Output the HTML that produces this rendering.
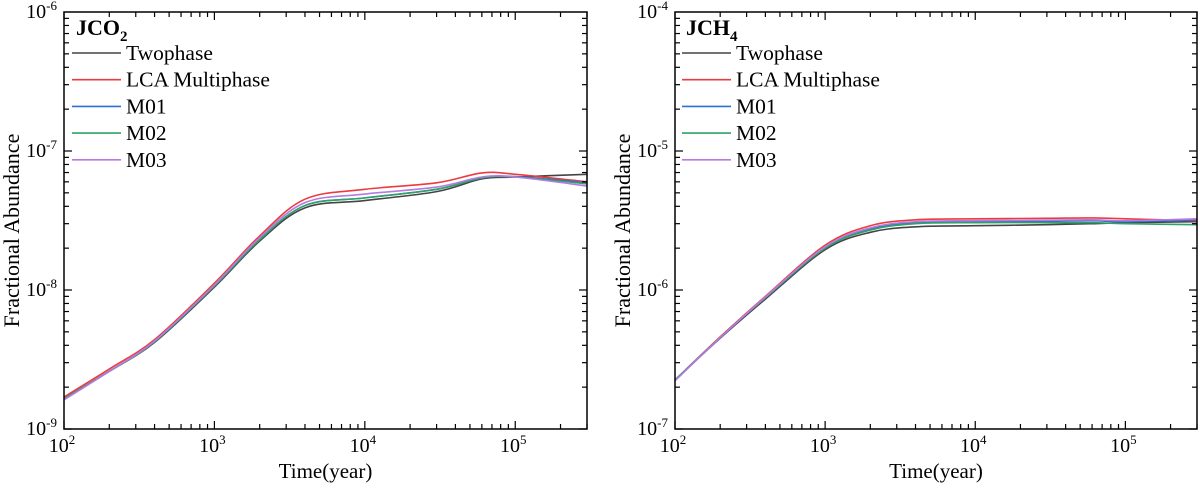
<!DOCTYPE html>
<html><head><meta charset="utf-8"><style>
html,body{margin:0;padding:0;background:#fff;}
svg{display:block;font-family:"Liberation Serif",serif;}
</style></head><body>
<svg id="chart" width="1200" height="491" viewBox="0 0 1200 491" xmlns="http://www.w3.org/2000/svg"></svg>
<script>
// Shared
const seriesNames = ["Twophase","LCA Multiphase","M01","M02","M03"];
const seriesColors = ["#444444","#ee3a3f","#2a72d4","#2fa266","#b67ae0"];
const times = [100,200,400,1000,2000,4000,10000,30000,60000,100000,300000];
const xTickLabels = ["2","3","4","5"];
// JCO2 values
const co2Twophase = [1.65e-9,2.6e-9,4.2e-9,1.05e-8,2.25e-8,3.9e-8,4.4e-8,5.1e-8,6.3e-8,6.5e-8,6.8e-8];
const co2LCA      = [1.70e-9,2.7e-9,4.4e-9,1.12e-8,2.45e-8,4.5e-8,5.3e-8,5.9e-8,6.95e-8,6.8e-8,6.0e-8];
const co2M01      = [1.65e-9,2.6e-9,4.25e-9,1.07e-8,2.3e-8,4.05e-8,4.6e-8,5.3e-8,6.4e-8,6.55e-8,5.9e-8];
const co2M02      = [1.65e-9,2.6e-9,4.25e-9,1.07e-8,2.3e-8,4.05e-8,4.6e-8,5.3e-8,6.4e-8,6.5e-8,5.8e-8];
const co2M03      = [1.62e-9,2.6e-9,4.3e-9,1.09e-8,2.38e-8,4.25e-8,4.9e-8,5.5e-8,6.5e-8,6.5e-8,5.6e-8];
// JCH4 values
const ch4Twophase = [2.25e-7,4.5e-7,8.6e-7,1.95e-6,2.6e-6,2.85e-6,2.9e-6,2.95e-6,3.0e-6,3.05e-6,3.1e-6];
const ch4LCA      = [2.25e-7,4.6e-7,9.0e-7,2.1e-6,2.9e-6,3.2e-6,3.25e-6,3.28e-6,3.3e-6,3.25e-6,3.15e-6];
const ch4M01      = [2.25e-7,4.55e-7,8.8e-7,2.0e-6,2.75e-6,3.05e-6,3.1e-6,3.12e-6,3.15e-6,3.1e-6,3.2e-6];
const ch4M02      = [2.25e-7,4.55e-7,8.8e-7,2.0e-6,2.7e-6,3.0e-6,3.05e-6,3.05e-6,3.05e-6,3.0e-6,2.95e-6];
const ch4M03      = [2.22e-7,4.55e-7,8.9e-7,2.05e-6,2.8e-6,3.1e-6,3.15e-6,3.18e-6,3.2e-6,3.15e-6,3.25e-6];

const NS="http://www.w3.org/2000/svg";
const svg=document.getElementById('chart');
function mk(tag,attrs,parent){const e=document.createElementNS(NS,tag);for(const k in attrs)e.setAttribute(k,attrs[k]);(parent||svg).appendChild(e);return e;}

function panel(opt){
  const {x0,x1,y0,y1,yTop,name,titleSub,seriesData,legX}=opt;
  const g=mk('g',{});
  
  
  const xmin=2,xmax=Math.log10(3e5);
  const xs=v=>x0+(Math.log10(v)-xmin)/(xmax-xmin)*(x1-x0);
  const ys=v=>y0+(yTop-Math.log10(v))/3*(y1-y0);
  seriesData.forEach((vals,si)=>{
    const pts=times.map((t,i)=>[xs(t),ys(vals[i])]);
    let d='M'+pts[0][0]+','+pts[0][1];
    for(let i=0;i<pts.length-1;i++){
      const p0=pts[Math.max(0,i-1)],p1=pts[i],p2=pts[i+1],p3=pts[Math.min(pts.length-1,i+2)];
      const c1=[p1[0]+(p2[0]-p0[0])/6,p1[1]+(p2[1]-p0[1])/6];
      const c2=[p2[0]-(p3[0]-p1[0])/6,p2[1]-(p3[1]-p1[1])/6];
      d+=`C${c1[0]},${c1[1]} ${c2[0]},${c2[1]} ${p2[0]},${p2[1]}`;
    }
    const p=mk('path',{d:d,fill:'none',stroke:seriesColors[si],'stroke-width':1.6},g);
    
    
  });
  const fr=mk('rect',{x:x0,y:y0,width:x1-x0,height:y1-y0,fill:'none',stroke:'#000','stroke-width':1.5},g);
  
  
  for(let dec=2;dec<=5;dec++){
    for(let m=1;m<=9;m++){
      const v=m*Math.pow(10,dec); if(Math.log10(v)>xmax+1e-9)continue;
      const x=xs(v),L=m===1?8:5;
      mk('line',{x1:x,y1:y1,x2:x,y2:y1-L,stroke:'#000','stroke-width':1.2},g);
      mk('line',{x1:x,y1:y0,x2:x,y2:y0+L,stroke:'#000','stroke-width':1.2},g);
    }
  }
  xTickLabels.forEach((s,i)=>{
    const x=xs(Math.pow(10,+s));
    const t=mk('text',{x:x-2,y:y1+23,'font-size':20,'text-anchor':'middle'},g);
    
    
    t.innerHTML='10<tspan dy="-8" font-size="13">'+s+'</tspan>';
  });
  for(let k=0;k<3;k++){
    const dec=yTop-3+k;
    for(let m=1;m<=9;m++){
      const v=m*Math.pow(10,dec),y=ys(v),L=m===1?8:5;
      mk('line',{x1:x0,y1:y,x2:x0+L,y2:y,stroke:'#000','stroke-width':1.2},g);
      mk('line',{x1:x1,y1:y,x2:x1-L,y2:y,stroke:'#000','stroke-width':1.2},g);
    }
  }
  for(let k=0;k<=3;k++){
    const e=yTop-k,y=ys(Math.pow(10,e));
    const t=mk('text',{x:x0-7,y:y+6,'font-size':20,'text-anchor':'end'},g);
    
    
    t.innerHTML='10<tspan dy="-8" font-size="13">'+e+'</tspan>';
  }
  const xt=mk('text',{x:(x0+x1)/2,y:478,'font-size':21,'text-anchor':'middle'},g);
  
  
  xt.textContent='Time(year)';
  const yt=mk('text',{x:0,y:0,'font-size':22,'text-anchor':'middle',transform:`translate(${x0-45},${(y0+y1)/2+10}) rotate(-90)`},g);
  
  
  yt.textContent='Fractional Abundance';
  const tt=mk('text',{x:legX+4,y:35,'font-size':22,'font-weight':'bold'},g);
  
  
  tt.innerHTML='JC'+titleSub[0]+'<tspan dy="6" font-size="15">'+titleSub[1]+'</tspan>';
  seriesNames.forEach((s,i)=>{
    const ly=53+i*26.7;
    const lg=mk('g',{},g);
    
    
    mk('line',{x1:legX,y1:ly,x2:legX+49,y2:ly,stroke:seriesColors[i],'stroke-width':1.6},lg);
    const t=mk('text',{x:legX+54,y:ly+7,'font-size':21.5},lg);
    t.textContent=s;
  });
}
panel({x0:64,x1:587,y0:12,y1:429,yTop:-6,name:'jco2',titleSub:['O','2'],legX:72,
  seriesData:[co2Twophase,co2LCA,co2M01,co2M02,co2M03]});
panel({x0:675,x1:1197,y0:12,y1:429,yTop:-4,name:'jch4',titleSub:['H','4'],legX:682,
  seriesData:[ch4Twophase,ch4LCA,ch4M01,ch4M02,ch4M03]});
</script>
</body></html>
